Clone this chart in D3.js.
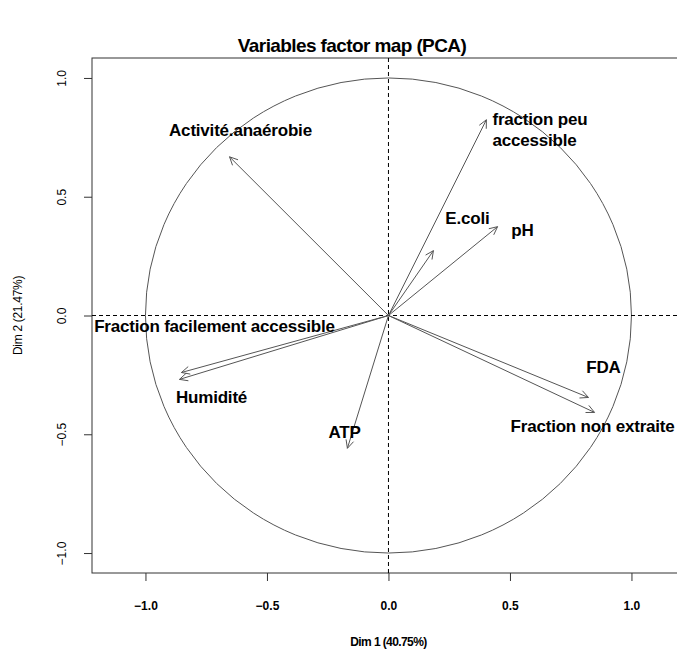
<!DOCTYPE html>
<head>
  <meta charset="utf-8">
  <title>Variables factor map (PCA)</title>
  <style>
  body { margin: 0; background: #fff; }
  text { font-family: "Liberation Sans", Arial, sans-serif; }
  .title { font-size: 19px; font-weight: bold; text-anchor: middle; letter-spacing: -0.6px; }
  .lab { font-size: 17px; font-weight: bold; fill: #000; letter-spacing: -0.2px; }
  .axis path, .axis line { stroke: #333; }
  .axis--x text { font-size: 12px; font-weight: bold; }
  .axis--y text { font-size: 12px; }
  .arrow { stroke: #555; stroke-width: 1; fill: none; }
  </style>
</head>

<svg id="vis1"></svg>

<script src="https://cdn.jsdelivr.net/npm/d3@7"></script>

<script>
"use strict";

// variables et coordonnées (Dim 1, Dim 2)
var variables = ["Activité.anaérobie", "fraction peu accessible", "E.coli", "pH", "FDA",
                 "Fraction non extraite", "Fraction facilement accessible", "Humidité", "ATP"];
var dim1 = [-0.654, 0.403, 0.185, 0.449, 0.823, 0.848, -0.852, -0.860, -0.169];
var dim2 = [0.668, 0.824, 0.273, 0.374, -0.345, -0.408, -0.240, -0.269, -0.559];

// où les étiquettes sont posées (mêmes unités)
var labelX = [-0.609, 0.428, 0.325, 0.551, 0.885, 0.840, -0.716, -0.728, -0.181];
var labelY = [0.782, 0.782, 0.412, 0.361, -0.218, -0.466, -0.046, -0.345, -0.492];

var ticks = [-1.0, -0.5, 0.0, 0.5, 1.0];

var totalWidth = 677,
    totalHeight = 654;

var svg = d3.select("#vis1")
    .attr("width", totalWidth)
    .attr("height", totalHeight);

var margin = {left: 92, top: 58, bottom: 573};

var x = d3.scaleLinear().domain([-1.22, 1.22]).range([margin.left, margin.left + 2.44 * 243]);
var y = d3.scaleLinear().domain([-1.084, 1.084]).range([margin.bottom, margin.top]);

svg.append("text")
    .attr("class", "title")
    .attr("x", 352)
    .attr("y", 52)
    .text("Variables factor map (PCA)");

// cadre
svg.append("rect")
    .attr("x", x.range()[0])
    .attr("y", margin.top)
    .attr("width", x.range()[1] - x.range()[0])
    .attr("height", margin.bottom - margin.top)
    .attr("fill", "none")
    .attr("stroke", "#333");

// axes
var xAxis = svg.append("g")
    .attr("class", "axis axis--x")
    .attr("transform", "translate(0," + margin.bottom + ")")
    .call(d3.axisBottom(x).tickValues(ticks).tickFormat(d3.format(".1f")).tickSize(8).tickPadding(20));
xAxis.select(".domain").remove();

var yAxis = svg.append("g")
    .attr("class", "axis axis--y")
    .attr("transform", "translate(" + margin.left + ",0)")
    .call(d3.axisLeft(y).tickValues(ticks).tickFormat(d3.format(".1f")).tickSize(8));
yAxis.select(".domain").remove();
yAxis.selectAll("text")
    .attr("x", 0)
    .attr("dy", "0.35em")
    .attr("text-anchor", "middle")
    .attr("transform", "translate(-30,0) rotate(-90)");

svg.append("text")
    .attr("x", x(0))
    .attr("y", 646)
    .attr("text-anchor", "middle")
    .style("font-size", "12px")
    .style("font-weight", "bold")
    .style("letter-spacing", "-0.6px")
    .text("Dim 1 (40.75%)");

svg.append("text")
    .attr("transform", "translate(22," + y(0) + ") rotate(-90)")
    .attr("text-anchor", "middle")
    .style("font-size", "12px")
    .style("letter-spacing", "-0.3px")
    .text("Dim 2 (21.47%)");

// cercle
var plot = svg.append("g");

plot.append("ellipse")
    .attr("cx", x(0))
    .attr("cy", y(0))
    .attr("rx", x(1) - x(0))
    .attr("ry", y(0) - y(1))
    .attr("fill", "none")
    .attr("stroke", "#555");

// lignes pointillées
plot.append("line")
    .attr("x1", x.range()[0]).attr("x2", x.range()[1])
    .attr("y1", y(0)).attr("y2", y(0))
    .attr("stroke", "#000").attr("stroke-dasharray", "4,3");
plot.append("line")
    .attr("x1", x(0)).attr("x2", x(0))
    .attr("y1", margin.top).attr("y2", margin.bottom)
    .attr("stroke", "#000").attr("stroke-dasharray", "4,3");

// flèches
var data = variables.map(function(v, i) {
  return {name: v, d1: dim1[i], d2: dim2[i], lx: labelX[i], ly: labelY[i]};
});

function arrowPath(d) {
  var x0 = x(0), y0 = y(0), x1 = x(d.d1), y1 = y(d.d2);
  var a = Math.atan2(y1 - y0, x1 - x0), L = 9, h = Math.PI / 7;
  var p1 = [x1 - L * Math.cos(a - h), y1 - L * Math.sin(a - h)];
  var p2 = [x1 - L * Math.cos(a + h), y1 - L * Math.sin(a + h)];
  return "M" + x0 + "," + y0 + "L" + x1 + "," + y1 +
         "M" + p1[0] + "," + p1[1] + "L" + x1 + "," + y1 + "L" + p2[0] + "," + p2[1];
}

plot.selectAll(".arrow")
    .data(data)
  .enter().append("path")
    .attr("class", "arrow")
    .attr("d", arrowPath);

var labs = plot.selectAll(".lab")
    .data(data)
  .enter().append("text")
    .attr("class", "lab")
    .attr("text-anchor", "middle")
    .attr("x", function(d) { return x(d.lx); })
    .attr("y", function(d) { return y(d.ly); });

labs.each(function(d) {
  var t = d3.select(this);
  if (d.name === "fraction peu accessible") {
    // deux lignes, calées à gauche
    t.attr("text-anchor", "start");
    t.append("tspan").attr("x", x(d.lx)).attr("dy", "-0.25em").text("fraction peu");
    t.append("tspan").attr("x", x(d.lx)).attr("dy", "1.2em").text("accessible");
  } else {
    t.attr("dy", "0.35em").text(d.name);
  }
});
</script>
